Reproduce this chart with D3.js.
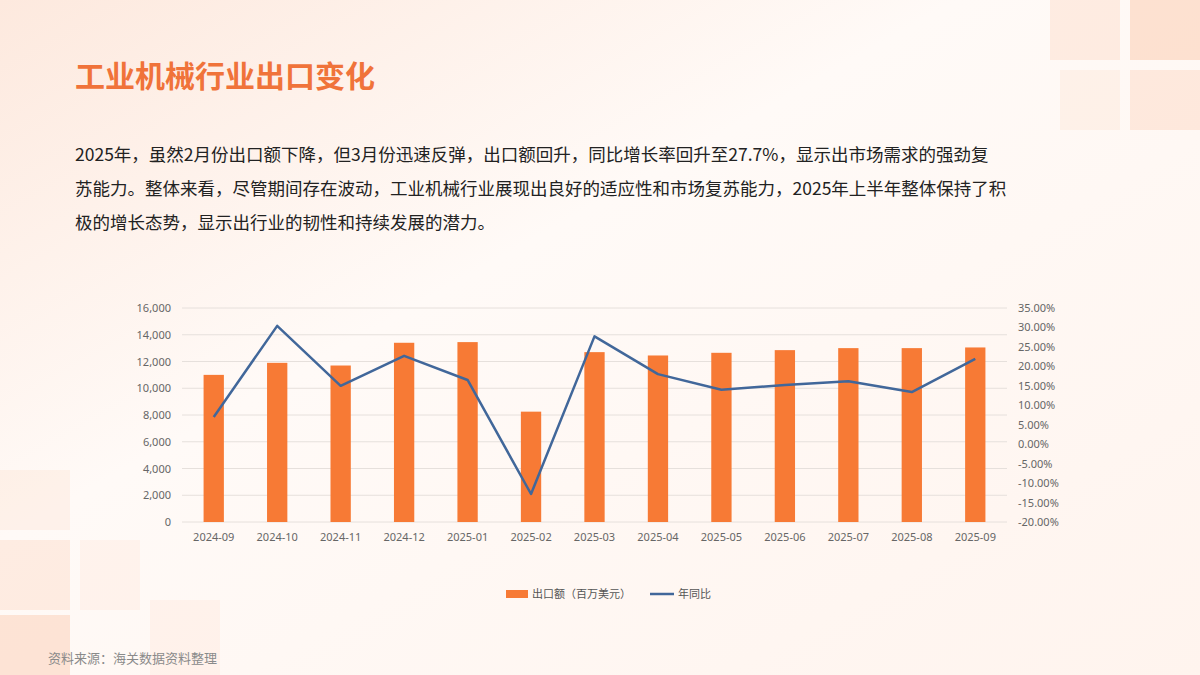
<!DOCTYPE html>
<html><head><meta charset="utf-8">
<script src="https://cdn.jsdelivr.net/npm/d3@7"></script>
<style>body{margin:0;font-family:"Noto Sans CJK SC","Noto Sans",sans-serif;}</style>
</head><body><div id="chart"></div>
<script>
// data
var months = ["2024-09","2024-10","2024-11","2024-12","2025-01","2025-02","2025-03","2025-04","2025-05","2025-06","2025-07","2025-08","2025-09"];
var exportValue = [11000,11900,11700,13400,13450,8250,12700,12450,12650,12850,13000,13000,13050];
var yoy = [7.0,30.4,15.0,22.7,16.5,-12.8,27.7,18.0,14.0,15.2,16.2,13.4,21.9];
var leftTicks = [0,2000,4000,6000,8000,10000,12000,14000,16000];
var rightTicks = [-20,-15,-10,-5,0,5,10,15,20,25,30,35];

var W = 1200, H = 675;
var svg = d3.select("#chart").append("svg").attr("width", W).attr("height", H);

// background
var defs = svg.append("defs");
var bg = defs.append("linearGradient").attr("id", "bg").attr("x1", 0).attr("y1", 0).attr("x2", 1).attr("y2", 1);
bg.append("stop").attr("offset", "0%").attr("stop-color", "#fde9de");
bg.append("stop").attr("offset", "40%").attr("stop-color", "#fffaf7");
bg.append("stop").attr("offset", "100%").attr("stop-color", "#fff4ee");
svg.append("rect").attr("width", W).attr("height", H).attr("fill", "url(#bg)");
// decorative squares
var squares = [[1050,0,70,60,0.25],[1130,0,70,60,0.45],[1130,70,70,60,0.3],[1060,70,60,60,0.15],
  [0,470,70,60,0.15],[0,540,70,70,0.25],[80,540,60,70,0.12],[0,615,70,60,0.4],[150,600,70,75,0.12]];
svg.selectAll("rect.sq").data(squares).enter().append("rect")
  .attr("x", d => d[0]).attr("y", d => d[1]).attr("width", d => d[2]).attr("height", d => d[3])
  .attr("fill", "#fbc3a4").attr("opacity", d => d[4]);

svg.append("text").attr("x", 75).attr("y", 87).attr("font-size", 30).attr("font-weight", "bold")
  .attr("fill", "#f0733a").text("工业机械行业出口变化");

var para = ["2025年，虽然2月份出口额下降，但3月份迅速反弹，出口额回升，同比增长率回升至27.7%，显示出市场需求的强劲复",
  "苏能力。整体来看，尽管期间存在波动，工业机械行业展现出良好的适应性和市场复苏能力，2025年上半年整体保持了积",
  "极的增长态势，显示出行业的韧性和持续发展的潜力。"];
svg.selectAll("text.p").data(para).enter().append("text")
  .attr("x", 75).attr("y", (d, i) => 161 + i * 34).attr("font-size", 17.5).attr("fill", "#222").text(d => d);

var plotL = 182, plotR = 1007, plotT = 308, plotB = 522;
var x = d3.scaleBand().domain(months).range([plotL, plotR]).paddingInner(0.68).paddingOuter(0.34);
var yL = d3.scaleLinear().domain([0, 16000]).range([plotB, plotT]);
var yR = d3.scaleLinear().domain([-20, 35]).range([plotB, plotT]);

svg.append("g").selectAll("line").data(leftTicks).enter().append("line")
  .attr("x1", plotL).attr("x2", plotR).attr("y1", d => yL(d)).attr("y2", d => yL(d))
  .attr("stroke", "#e6e0dc").attr("stroke-width", 1);

var axL = svg.append("g").attr("transform", "translate(" + (plotL - 8) + ",0)")
  .call(d3.axisLeft(yL).tickValues(leftTicks).tickSize(0).tickFormat(d3.format(",")));
var axR = svg.append("g").attr("transform", "translate(" + (plotR + 8) + ",0)")
  .call(d3.axisRight(yR).tickValues(rightTicks).tickSize(0).tickFormat(d => d.toFixed(2) + "%"));
var axX = svg.append("g").attr("transform", "translate(0," + (plotB + 8) + ")")
  .call(d3.axisBottom(x).tickSize(0));
[axL, axR, axX].forEach(function(a) {
  a.select(".domain").remove();
  a.selectAll("text").attr("fill", "#666").attr("font-size", 11).attr("font-family", "Noto Sans, sans-serif");
});

svg.append("g").selectAll("rect").data(months).enter().append("rect")
  .attr("x", d => x(d)).attr("width", x.bandwidth())
  .attr("y", (d, i) => yL(exportValue[i])).attr("height", (d, i) => plotB - yL(exportValue[i]))
  .attr("fill", "#f77a35");

var line = d3.line().x((d, i) => x(months[i]) + x.bandwidth() / 2).y(d => yR(d));
svg.append("path").datum(yoy).attr("d", line).attr("fill", "none")
  .attr("stroke", "#41679a").attr("stroke-width", 2.5).attr("stroke-linejoin", "round");

// legend
var lg = svg.append("g").attr("transform", "translate(0,594)");
lg.append("rect").attr("x", 506).attr("y", -4).attr("width", 22).attr("height", 8).attr("fill", "#f77a35");
lg.append("text").attr("x", 532).attr("y", 4).attr("font-size", 11).attr("fill", "#555").text("出口额（百万美元）");
lg.append("line").attr("x1", 650).attr("x2", 674).attr("y1", 0).attr("y2", 0).attr("stroke", "#41679a").attr("stroke-width", 2.5);
lg.append("text").attr("x", 678).attr("y", 4).attr("font-size", 11).attr("fill", "#555").text("年同比");

svg.append("text").attr("x", 48).attr("y", 663).attr("font-size", 13).attr("fill", "#8a8a8a").text("资料来源：海关数据资料整理");
</script></body></html>
